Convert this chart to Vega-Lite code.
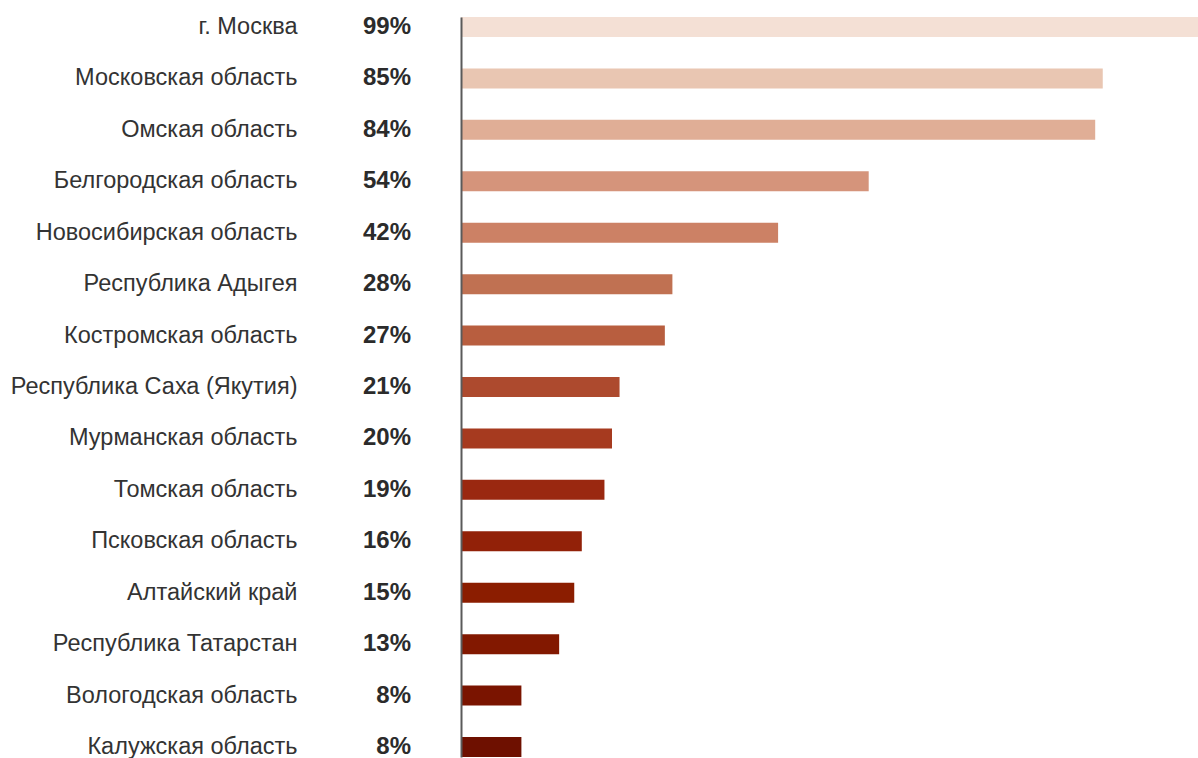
{
  "$schema": "https://vega.github.io/schema/vega-lite/v6.json",
  "autosize": "none",
  "width": 755,
  "height": 740,
  "padding": {"left": 461, "top": 17, "right": 0, "bottom": 1},
  "background": "white",
  "config": {"view": {"stroke": null}, "font": "Liberation Sans"},
  "data": {"values": [
    {"region": "г. Москва", "value": 99, "label": "99%"},
    {"region": "Московская область", "value": 85, "label": "85%"},
    {"region": "Омская область", "value": 84, "label": "84%"},
    {"region": "Белгородская область", "value": 54, "label": "54%"},
    {"region": "Новосибирская область", "value": 42, "label": "42%"},
    {"region": "Республика Адыгея", "value": 28, "label": "28%"},
    {"region": "Костромская область", "value": 27, "label": "27%"},
    {"region": "Республика Саха (Якутия)", "value": 21, "label": "21%"},
    {"region": "Мурманская область", "value": 20, "label": "20%"},
    {"region": "Томская область", "value": 19, "label": "19%"},
    {"region": "Псковская область", "value": 16, "label": "16%"},
    {"region": "Алтайский край", "value": 15, "label": "15%"},
    {"region": "Республика Татарстан", "value": 13, "label": "13%"},
    {"region": "Вологодская область", "value": 8, "label": "8%"},
    {"region": "Калужская область", "value": 8, "label": "8%"}
  ]},
  "encoding": {
    "y": {
      "field": "region", "type": "nominal", "sort": null,
      "scale": {"paddingInner": 0.611, "paddingOuter": 0},
      "axis": {
        "title": null, "ticks": false, "labelPadding": 164, "zindex": 1,
        "labelFontSize": 23.5, "labelColor": "#333333", "labelFont": "Liberation Sans",
        "labelLimit": 400, "domainColor": "#5a5a5a", "domainWidth": 2
      }
    }
  },
  "layer": [
    {
      "mark": {"type": "bar", "clip": false},
      "encoding": {
        "x": {"field": "value", "type": "quantitative", "scale": {"domain": [0, 100]}, "axis": null},
        "color": {
          "field": "region", "type": "nominal", "sort": null, "legend": null,
          "scale": {
            "domain": ["г. Москва", "Московская область", "Омская область", "Белгородская область", "Новосибирская область", "Республика Адыгея", "Костромская область", "Республика Саха (Якутия)", "Мурманская область", "Томская область", "Псковская область", "Алтайский край", "Республика Татарстан", "Вологодская область", "Калужская область"],
            "range": ["#f4e0d5", "#e9c6b2", "#e0ae96", "#d5947b", "#cc8165", "#c07152", "#b85e3f", "#ad4a2e", "#a63a1f", "#9a2810", "#922108", "#8b1d00", "#821800", "#7a1400", "#6e1000"]
          }
        }
      }
    },
    {
      "mark": {"type": "text", "align": "right", "baseline": "middle", "dx": -50, "fontSize": 24, "fontWeight": "bold", "color": "#2b2b2b", "font": "Liberation Sans"},
      "encoding": {
        "x": {"datum": 0, "type": "quantitative"},
        "text": {"field": "label"}
      }
    }
  ]
}
